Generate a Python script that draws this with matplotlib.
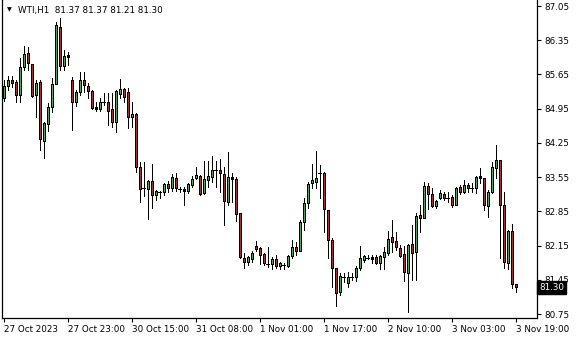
import matplotlib
matplotlib.use("Agg")
import matplotlib.pyplot as plt

# WTI H1 candles, oldest first
opens = [85.17, 85.41, 85.54, 85.50, 85.23, 85.80, 86.09, 85.86, 85.23, 85.50,
         84.29, 84.64, 84.98, 85.46, 86.62, 85.82, 86.01, 85.54, 85.09, 85.29,
         85.54, 85.41, 85.31, 84.94, 84.94, 85.09, 85.09, 84.94, 84.68, 85.25,
         85.35, 85.29, 84.78, 84.84, 83.76, 83.33, 83.31, 83.47, 83.19, 83.25,
         83.25, 83.41, 83.33, 83.53, 83.31, 83.27, 83.27, 83.39, 83.53, 83.57,
         83.23, 83.49, 83.55, 83.70, 83.70, 83.62, 83.04, 83.55, 83.51, 82.82,
         81.90, 81.82, 81.88, 82.14, 82.10, 81.98, 81.77, 81.77, 81.88, 81.73,
         81.75, 81.73, 81.94, 82.12, 82.04, 82.63, 83.02, 83.43, 83.45, 83.64,
         83.64, 82.88, 82.27, 81.69, 81.20, 81.51, 81.39, 81.51, 81.51, 81.69,
         81.86, 81.90, 81.88, 81.92, 81.80, 81.92, 82.00, 82.33, 82.24, 82.10,
         81.98, 81.59, 82.18, 82.02, 82.78, 82.72, 83.37, 83.21, 82.96, 83.12,
         83.21, 83.12, 83.14, 82.98, 83.35, 83.25, 83.39, 83.33, 83.33, 83.57,
         83.53, 82.96, 83.25, 83.74, 83.90, 82.98, 81.80, 82.45, 81.37]
highs = [85.54, 85.62, 85.62, 85.54, 85.99, 86.23, 86.21, 85.86, 85.54, 85.54,
         84.68, 85.07, 85.58, 86.72, 86.81, 86.15, 86.11, 85.60, 85.33, 85.70,
         85.70, 85.48, 85.33, 85.09, 85.17, 85.27, 85.27, 85.27, 85.33, 85.56,
         85.37, 85.37, 85.09, 84.86, 83.86, 83.86, 83.49, 83.82, 83.29, 83.27,
         83.43, 83.47, 83.62, 83.64, 83.35, 83.35, 83.43, 83.57, 83.76, 83.59,
         83.88, 83.88, 83.98, 83.88, 83.92, 83.76, 84.07, 83.64, 83.55, 82.82,
         82.00, 81.94, 82.04, 82.24, 82.12, 82.00, 82.12, 81.92, 81.96, 81.82,
         81.80, 81.96, 82.27, 82.22, 82.67, 83.12, 83.45, 83.82, 84.09, 83.80,
         83.66, 82.88, 82.31, 81.69, 81.59, 81.59, 81.61, 81.59, 81.73, 82.14,
         81.96, 81.96, 81.96, 81.96, 81.96, 82.12, 82.45, 82.67, 82.43, 82.16,
         82.14, 82.18, 82.57, 82.82, 82.98, 83.45, 83.43, 83.33, 83.08, 83.29,
         83.25, 83.25, 83.19, 83.35, 83.39, 83.49, 83.43, 83.43, 83.57, 83.74,
         83.53, 83.29, 83.86, 84.21, 83.90, 83.25, 82.47, 82.59, 81.37]
lows = [85.11, 85.33, 85.39, 85.09, 85.09, 85.74, 85.74, 85.19, 84.78, 84.11,
        83.94, 84.49, 84.88, 85.46, 85.74, 85.74, 85.84, 84.51, 85.01, 85.23,
        85.29, 85.17, 84.94, 84.90, 84.90, 85.03, 84.62, 84.58, 84.47, 85.17,
        85.09, 84.56, 84.58, 83.66, 83.04, 83.17, 82.69, 82.92, 83.08, 83.12,
        83.19, 83.25, 83.27, 83.27, 83.25, 82.98, 83.23, 83.35, 83.51, 83.19,
        83.21, 83.35, 83.45, 83.35, 83.25, 82.57, 82.98, 83.04, 82.65, 81.90,
        81.69, 81.75, 81.82, 82.04, 81.77, 81.75, 81.71, 81.67, 81.69, 81.67,
        81.67, 81.71, 81.90, 81.96, 82.04, 82.47, 82.92, 83.33, 83.33, 83.12,
        82.43, 81.90, 81.30, 80.92, 81.14, 81.41, 81.30, 81.45, 81.43, 81.65,
        81.82, 81.88, 81.80, 81.77, 81.67, 81.67, 81.96, 82.02, 82.06, 81.92,
        81.43, 80.79, 81.45, 81.45, 82.43, 82.72, 82.90, 82.94, 82.92, 83.10,
        83.08, 83.04, 82.94, 82.98, 83.21, 83.23, 83.25, 83.25, 83.23, 83.43,
        82.88, 82.74, 83.23, 83.53, 81.90, 81.69, 81.67, 81.28, 81.21]
closes = [85.41, 85.54, 85.48, 85.23, 85.80, 86.07, 85.88, 85.21, 85.48, 84.33,
          84.66, 84.98, 85.46, 86.66, 85.82, 86.03, 86.05, 85.09, 85.29, 85.54,
          85.43, 85.31, 84.96, 84.98, 85.09, 85.10, 84.90, 84.68, 85.31, 85.35,
          85.19, 84.78, 84.84, 83.76, 83.31, 83.34, 83.47, 83.19, 83.27, 83.26,
          83.41, 83.33, 83.55, 83.33, 83.32, 83.31, 83.41, 83.51, 83.59, 83.21,
          83.51, 83.57, 83.70, 83.71, 83.64, 83.06, 83.55, 83.51, 82.80, 81.92,
          81.82, 81.92, 82.00, 82.08, 81.96, 81.80, 81.78, 81.88, 81.73, 81.80,
          81.76, 81.94, 82.12, 82.04, 82.63, 83.02, 83.41, 83.49, 83.53, 83.65,
          82.90, 82.27, 81.69, 81.18, 81.53, 81.52, 81.51, 81.52, 81.69, 81.90,
          81.94, 81.91, 81.92, 81.80, 81.94, 82.02, 82.29, 82.22, 82.12, 81.94,
          81.61, 82.16, 82.00, 82.76, 82.72, 83.37, 83.21, 82.96, 83.06, 83.23,
          83.12, 83.13, 82.98, 83.33, 83.25, 83.39, 83.33, 83.34, 83.55, 83.53,
          82.98, 83.25, 83.76, 83.90, 82.98, 81.82, 82.45, 81.37, 81.30]

price_ticks = [87.05, 86.35, 85.65, 84.95, 84.25, 83.55, 82.85, 82.15, 81.45, 80.75]
time_idx = [0, 16, 32, 48, 64, 80, 96, 112, 128]
time_labels = ['27 Oct 2023', '27 Oct 23:00', '30 Oct 15:00', '31 Oct 08:00',
               '1 Nov 01:00', '1 Nov 17:00', '2 Nov 10:00', '3 Nov 03:00',
               '3 Nov 19:00']

bull = '#22c33a'
bear = '#ee1111'
ymin, ymax = 80.67, 87.173
px = (ymax - ymin) / 318  # one pixel in price units
one = 0.72                # 1 px line width in points at 100 dpi

fig = plt.figure(figsize=(5.8, 3.4), dpi=100)
ax = fig.add_axes([2 / 580, 22 / 340, 535 / 580, 318 / 340])

for i in range(len(opens)):
    o, h, l, c = opens[i], highs[i], lows[i], closes[i]
    ax.plot([i, i], [l, h], color='black', lw=one, zorder=1,
            solid_capstyle='butt', antialiased=False)
    lo, hi = min(o, c), max(o, c)
    if hi - lo < 0.015:
        ax.plot([i - 0.375, i + 0.375], [o, o], color='black', lw=one,
                zorder=2, solid_capstyle='butt', antialiased=False)
        continue
    col = bull if c > o else bear
    # 3 px black body, 1 px coloured core
    ax.plot([i, i], [lo, hi], color='black', lw=3 * one, zorder=2,
            solid_capstyle='butt', antialiased=False)
    if hi - lo > 2.5 * px:
        ax.plot([i, i], [lo + px, hi - px], color=col, lw=one, zorder=3,
                solid_capstyle='butt', antialiased=False)

ax.set_xlim(-0.375, 133.375)
ax.set_ylim(ymin, ymax)

ax.yaxis.tick_right()
ax.set_yticks(price_ticks)
ax.set_yticklabels(['%.2f' % p for p in price_ticks])
ax.set_xticks(time_idx)
ax.set_xticklabels(time_labels)
for lab in ax.get_xticklabels():
    lab.set_horizontalalignment('left')
ax.tick_params(axis='both', direction='out', length=3, width=0.8,
               labelsize=6.3, pad=2, colors='black')
ax.spines['top'].set_visible(False)
for s in ['left', 'right', 'bottom']:
    ax.spines[s].set_linewidth(0.9)

# current price tag
ax.text(1.004, (closes[-1] - ymin) / (ymax - ymin), '%.2f' % closes[-1],
        transform=ax.transAxes, fontsize=6.3, color='white', va='center',
        ha='left', zorder=5,
        bbox=dict(facecolor='black', edgecolor='black', pad=1.5), clip_on=False)

# header
fig.text(7 / 580, 1 - 10 / 340, '\u25BC', fontsize=4.5, va='center', ha='left')
fig.text(18 / 580, 1 - 10 / 340,
         'WTI,H1  %.2f %.2f %.2f %.2f' % (opens[-1], highs[-1], lows[-1], closes[-1]),
         fontsize=6.3, va='center', ha='left')

fig.savefig('out.png', dpi=100)
